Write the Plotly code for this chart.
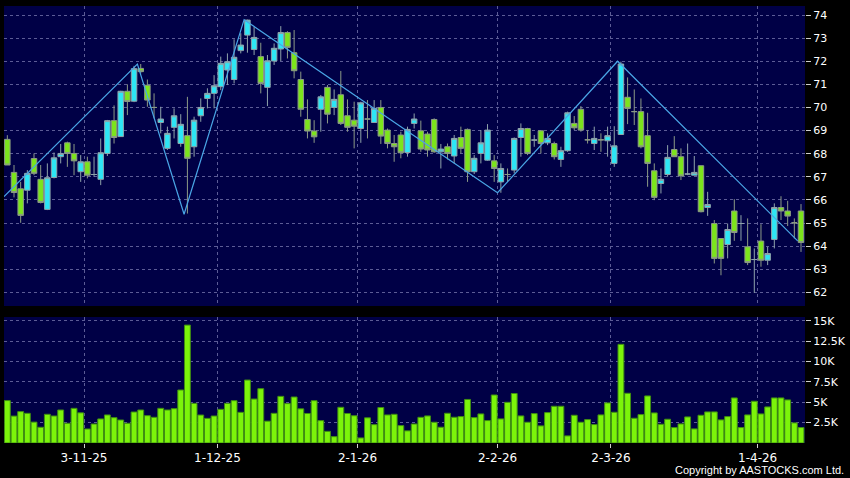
import plotly.graph_objects as go

# ---------------- data ----------------
opens = [68.62, 67.19, 66.48, 66.42, 67.79, 66.89, 65.59, 66.97, 67.87, 68.47,
         68.01, 67.22, 67.65, 67.10, 66.89, 68.01, 69.43, 68.74, 70.70, 70.27,
         71.69, 70.96, 70.00, 69.35, 68.23, 69.14, 68.44, 68.78, 68.30, 69.64,
         70.39, 70.61, 70.90, 71.62, 71.21, 72.46, 73.13, 72.51, 72.20, 70.87,
         72.01, 72.53, 73.24, 72.37, 71.21, 69.48, 68.98, 69.92, 70.87, 70.00,
         70.55, 69.64, 69.45, 69.09, 69.50, 69.35, 70.00, 69.02, 68.44, 68.81,
         68.05, 69.31, 68.99, 68.85, 69.48, 68.08, 68.30, 67.90, 68.70, 69.05,
         67.22, 68.01, 67.72, 67.69, 66.78, 67.10, 67.29, 68.70, 69.09, 68.59,
         68.99, 68.47, 68.44, 67.75, 68.13, 69.31, 69.92, 68.60, 68.44, 68.60,
         68.56, 67.58, 68.83, 70.44, 69.82, 69.82, 68.78, 67.26, 66.71, 67.10,
         68.18, 67.87, 67.12, 67.07, 67.48, 65.67, 64.98, 64.33, 64.07, 65.52,
         64.98, 63.97, 63.42, 64.22, 63.39, 64.29, 65.67, 65.52, 65.01, 65.52]
highs = [68.80, 67.51, 66.78, 67.29, 68.01, 67.51, 67.58, 68.05, 68.42, 68.52,
         68.42, 67.94, 67.87, 67.87, 68.66, 69.46, 70.09, 70.72, 71.00, 71.80,
         71.88, 71.21, 70.61, 70.03, 69.17, 69.96, 69.71, 70.46, 69.60, 70.39,
         70.83, 71.40, 72.20, 72.34, 72.95, 73.21, 73.80, 73.49, 72.80, 72.27,
         72.77, 73.52, 73.30, 73.35, 71.55, 70.35, 69.45, 70.54, 70.97, 70.78,
         71.58, 70.35, 70.25, 70.25, 70.32, 70.32, 70.32, 69.09, 68.81, 68.95,
         69.17, 69.74, 69.43, 68.95, 69.53, 68.42, 68.44, 68.81, 69.17, 69.09,
         67.94, 69.02, 69.28, 67.94, 67.58, 67.36, 68.70, 69.31, 69.12, 68.81,
         69.02, 68.88, 68.52, 68.30, 69.82, 69.63, 70.06, 69.02, 69.17, 68.88,
         69.17, 69.19, 71.98, 71.30, 70.78, 70.39, 69.77, 67.58, 67.36, 68.37,
         68.76, 68.23, 68.44, 67.90, 67.48, 66.35, 65.13, 64.33, 64.98, 66.03,
         65.34, 65.20, 63.90, 64.95, 63.97, 65.85, 66.16, 65.96, 65.20, 65.82]
lows = [67.51, 66.11, 65.01, 65.85, 67.07, 65.85, 65.56, 66.93, 67.58, 67.43,
        67.07, 66.78, 66.93, 67.00, 66.64, 67.90, 68.44, 68.73, 69.67, 70.23,
        71.47, 70.03, 69.53, 68.88, 68.16, 68.66, 68.30, 65.41, 67.87, 69.38,
        69.96, 69.96, 70.75, 70.97, 71.04, 72.34, 72.37, 72.27, 70.61, 70.06,
        71.84, 72.01, 72.12, 71.26, 69.60, 68.66, 68.47, 68.95, 69.31, 69.67,
        69.24, 68.95, 68.23, 68.47, 68.66, 69.34, 68.42, 68.23, 67.65, 67.80,
        67.87, 69.09, 68.08, 67.87, 68.04, 67.36, 67.75, 67.58, 68.01, 66.78,
        67.12, 67.58, 67.69, 66.78, 66.31, 66.78, 67.15, 67.87, 67.94, 68.30,
        68.01, 68.37, 67.75, 67.43, 68.08, 69.02, 68.95, 68.44, 68.16, 68.08,
        67.87, 67.43, 68.81, 69.28, 69.24, 68.23, 66.57, 65.99, 66.28, 67.00,
        67.87, 66.86, 67.07, 67.07, 65.46, 65.31, 63.25, 62.74, 63.47, 64.23,
        64.23, 63.18, 61.98, 63.11, 63.18, 63.90, 65.13, 64.87, 64.33, 63.75]
closes = [67.51, 66.32, 65.33, 67.15, 67.15, 65.89, 66.96, 67.82, 68.01, 68.01,
          67.69, 67.65, 67.07, 67.10, 68.04, 69.43, 68.70, 70.70, 70.26, 71.68,
          71.55, 70.32, 70.00, 69.50, 68.88, 69.64, 69.27, 67.80, 69.45, 70.00,
          70.61, 70.94, 71.91, 71.98, 72.17, 72.70, 73.78, 73.03, 71.04, 72.02,
          72.56, 73.24, 72.60, 71.59, 69.92, 68.98, 68.73, 70.46, 69.71, 70.35,
          69.31, 69.14, 69.19, 70.20, 69.50, 69.96, 68.76, 68.44, 68.30, 68.04,
          69.05, 69.50, 68.20, 68.16, 68.08, 68.20, 68.01, 68.66, 68.23, 67.22,
          67.80, 68.47, 69.02, 67.36, 67.36, 67.10, 68.66, 69.09, 68.01, 68.59,
          68.44, 68.66, 67.87, 68.13, 69.77, 69.12, 69.02, 68.60, 68.66, 68.60,
          68.78, 68.34, 71.88, 69.96, 69.82, 68.30, 67.58, 66.11, 66.89, 67.84,
          67.87, 67.04, 67.12, 67.19, 65.49, 65.80, 63.47, 63.47, 64.72, 64.59,
          64.98, 63.29, 63.42, 63.39, 63.68, 65.67, 65.52, 65.30, 65.01, 64.16]
volumes = [5200, 3300, 3850, 3640, 2560, 1930, 3520, 3310, 4050, 2420,
           4250, 3700, 1720, 2330, 2950, 3440, 3110, 2820, 2420, 3800,
           4050, 3350, 3150, 4250, 4050, 4210, 6500, 14460, 4860, 3430,
           3020, 3310, 4130, 4860, 5190, 3760, 7720, 5390, 6660, 2680,
           3640, 5720, 4830, 5640, 4190, 3620, 5190, 2740, 1430, 780,
           4380, 3620, 3340, 620, 3090, 2250, 4350, 3440, 3520, 2130,
           1490, 2330, 3150, 3320, 2545, 1933, 3648, 3158, 3239, 5340,
           3117, 3566, 2749, 5890, 2954, 4990, 6070, 3321, 2545, 3607,
           2096, 3729, 4505, 4505, 872, 3403, 2545, 2872, 2260, 3444,
           4914, 3770, 12100, 6098, 3035, 3484, 5771, 3689, 2300, 2913,
           1892, 2341, 3198, 1729, 3403, 3811, 3811, 2831, 3239, 5526,
           1892, 3444, 5118, 3566, 4424, 5526, 5526, 5281, 2464, 1892]

zz_bars = [0, 20, 27, 36, 74, 92, 119]
zz_prices = [66.14, 71.88, 65.38, 73.80, 66.31, 72.00, 64.23]

tick_bars = [12, 32, 53, 74, 91, 113]
tick_labels = ["3-11-25", "1-12-25", "2-1-26", "2-2-26", "2-3-26", "1-4-26"]

vol_tick_vals = [2500, 5000, 7500, 10000, 12500, 15000]
vol_tick_text = ["2.5K", "5K", "7.5K", "10K", "12.5K", "15K"]

# ---------------- figure ----------------
x = list(range(len(opens)))
tick_pos = [b - 0.5 for b in tick_bars]
zz_x = [b - 0.5 for b in zz_bars]

NAVY = "#000046"
GRID = "#5c5c96"
FONT = "DejaVu Sans"

fig = go.Figure()

fig.add_trace(go.Candlestick(
    x=x, open=opens, high=highs, low=lows, close=closes,
    xaxis="x", yaxis="y",
    increasing=dict(fillcolor="#2de6f5", line=dict(color="#8fa3aa", width=1)),
    decreasing=dict(fillcolor="#7ce41c", line=dict(color="#8c9a86", width=1)),
    whiskerwidth=0, showlegend=False, hoverinfo="skip",
))

fig.add_trace(go.Scatter(
    x=zz_x, y=zz_prices, mode="lines", xaxis="x", yaxis="y",
    line=dict(color="#4aa6e6", width=1.2), showlegend=False, hoverinfo="skip",
))

fig.add_trace(go.Bar(
    x=x, y=volumes, xaxis="x2", yaxis="y2",
    marker=dict(color="#7cf40a", line=dict(color="#3f8f12", width=1)),
    showlegend=False, hoverinfo="skip",
))

axis_common = dict(showline=False, zeroline=False, gridcolor=GRID, griddash="3px,3px",
                   gridwidth=1)

fig.update_layout(
    width=850, height=478,
    margin=dict(l=4, r=43, t=6, b=35),
    paper_bgcolor="black", plot_bgcolor=NAVY,
    boxgap=0.18, boxgroupgap=0, bargap=0.12,
    font=dict(family=FONT, color="white", size=11),
    xaxis=dict(domain=[0, 1], anchor="y", range=[-0.5, 119.6],
               tickmode="array", tickvals=tick_pos, showticklabels=False,
               ticks="", showgrid=True, rangeslider=dict(visible=False),
               **axis_common),
    yaxis=dict(domain=[0.3135, 1], anchor="x", side="right",
               range=[61.41, 74.39], tick0=0, dtick=1,
               ticks="outside", ticklen=5, tickcolor="#cfcfcf",
               tickfont=dict(size=11, color="white", family=FONT),
               showgrid=True, **axis_common),
    xaxis2=dict(domain=[0, 1], anchor="y2", range=[-0.5, 119.6], matches="x",
                tickmode="array", tickvals=tick_pos, ticktext=tick_labels,
                ticks="outside", ticklen=4, tickcolor="#cfcfcf",
                tickfont=dict(size=12, color="white", family=FONT),
                showgrid=True, **axis_common),
    yaxis2=dict(domain=[0, 0.2883], anchor="x2", side="right",
                range=[0, 15450], tickmode="array",
                tickvals=vol_tick_vals, ticktext=vol_tick_text,
                ticks="outside", ticklen=5, tickcolor="#cfcfcf",
                tickfont=dict(size=11, color="white", family=FONT),
                showgrid=True, **axis_common),
    annotations=[dict(text="Copyright by AASTOCKS.com Ltd.", xref="paper", yref="paper",
                      x=1.0513, y=-0.0618, xanchor="right", yanchor="middle",
                      showarrow=False,
                      font=dict(family="Liberation Sans", size=11, color="white"))],
)

fig.write_html("out.html", config={"displayModeBar": False},
               post_script="document.body.style.margin='0';document.body.style.background='black';")
